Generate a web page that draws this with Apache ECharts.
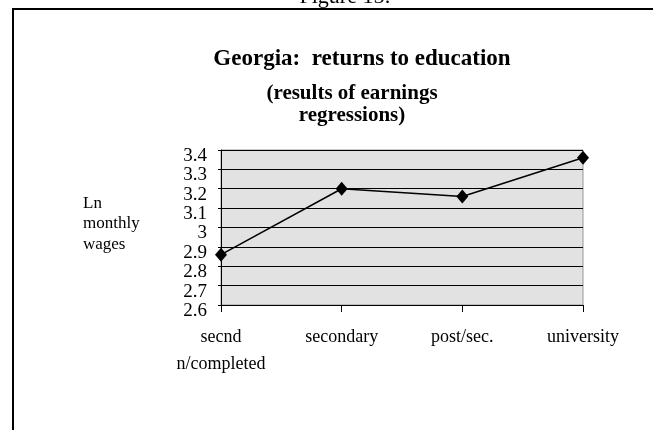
<!DOCTYPE html>
<html>
<head>
<meta charset="utf-8">
<script src="https://cdn.jsdelivr.net/npm/echarts@6/dist/echarts.min.js"></script>
<style>
  html, body { margin: 0; padding: 0; background: #fff; }
  #chart { width: 653px; height: 430px; }
</style>
</head>
<body>
<div id="chart"></div>
<script>
  // values
  var categories = ['secnd\nn/completed', 'secondary', 'post/sec.', 'university']
  var lnWages = [2.86, 3.20, 3.16, 3.36]
  var yMin = 2.6, yMax = 3.4, yStep = 0.1

  var serif = '"Liberation Serif", "DejaVu Serif", serif'

  var chart = echarts.init(document.getElementById('chart'))
  chart.setOption({
    animation: false,
    backgroundColor: '#fff',
    title: [
      {
        text: 'Georgia:  returns to education',
        left: 357,
        top: 43,
        textAlign: 'center',
        textStyle: { fontFamily: serif, fontSize: 23, fontWeight: 'bold', color: '#000' }
      },
      {
        text: '(results of earnings\nregressions)',
        left: 347,
        top: 78,
        textAlign: 'center',
        textStyle: { fontFamily: serif, fontSize: 21, fontWeight: 'bold', color: '#000', lineHeight: 22 }
      },
      {
        text: 'Ln\nmonthly\nwages',
        left: 78,
        top: 188,
        textStyle: { fontFamily: serif, fontSize: 17, fontWeight: 'normal', color: '#000', lineHeight: 20.5 }
      }
    ],
    graphic: [
      {
        type: 'rect',
        shape: { x: 13, y: 9, width: 700, height: 500 },
        style: { fill: 'none', stroke: '#000', lineWidth: 2 }
      },
      {
        type: 'text',
        x: 345, y: -3,
        style: { text: 'Figure 15:', font: '22px ' + serif, fill: '#000', align: 'center', verticalAlign: 'middle' }
      }
    ],
    grid: {
      left: 221, top: 150, width: 362, height: 155,
      show: true,
      backgroundColor: '#e2e2e2',
      borderColor: '#999',
      borderWidth: 1
    },
    xAxis: {
      type: 'category',
      data: categories,
      boundaryGap: false,
      axisLine: { lineStyle: { color: '#000', width: 1 } },
      axisTick: { show: true, length: 7, lineStyle: { color: '#000' } },
      axisLabel: {
        margin: 19,
        color: '#000',
        fontFamily: serif,
        fontSize: 18,
        lineHeight: 27,
        verticalAlign: 'top'
      },
      splitLine: { show: false }
    },
    yAxis: {
      type: 'value',
      min: yMin,
      max: yMax,
      interval: yStep,
      axisLine: { show: true, lineStyle: { color: '#000', width: 1 } },
      axisTick: { show: true, length: 3, lineStyle: { color: '#000' } },
      axisLabel: {
        margin: 14,
        color: '#000',
        fontFamily: serif,
        fontSize: 19,
        lineHeight: 12,
        verticalAlign: 'top'
      },
      splitLine: { show: true, lineStyle: { color: '#000', width: 1 } }
    },
    series: [
      {
        type: 'line',
        data: lnWages,
        symbol: 'diamond',
        symbolSize: [12, 14],
        itemStyle: { color: '#000' },
        lineStyle: { color: '#000', width: 1.5 }
      }
    ]
  })
</script>
</body>
</html>
